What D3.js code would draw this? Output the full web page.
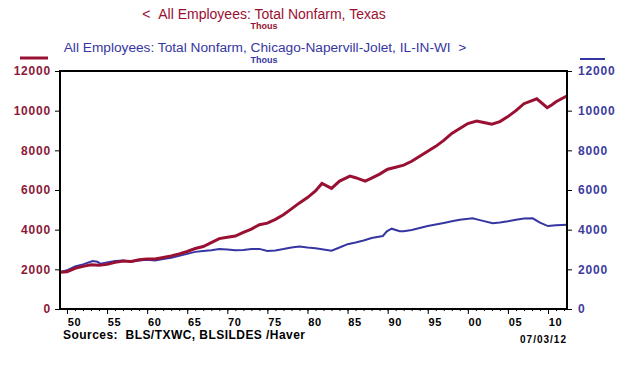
<!DOCTYPE html>
<html><head><meta charset="utf-8">
<script src="https://cdn.jsdelivr.net/npm/d3@7"></script>
<style>body{margin:0;background:#fff}svg{display:block}text{font-family:"Liberation Sans",Arial,sans-serif;white-space:pre}</style>
</head><body>
<svg id="c" width="625" height="367"></svg>
<script>
const texasYears = [1949.1,1950,1951,1952,1953,1954,1955,1956,1957,1958,1959,1960,1961,1962,1963,1964,1965,1966,1967,1968,1969,1970,1971,1972,1973,1974,1975,1976,1977,1978,1979,1980,1981,1981.8,1983.0,1984,1985.3,1986,1987.2,1988,1989,1990,1991,1992,1993,1994,1995,1996,1997,1998,1999,2000,2001.1,2002,2003,2004,2005,2006,2007,2008.6,2009.9,2010.5,2011,2012.4];
const texasValues = [1850,1880,2050,2150,2230,2200,2250,2350,2420,2400,2480,2520,2520,2600,2680,2780,2900,3050,3150,3350,3550,3620,3680,3860,4030,4250,4330,4520,4750,5050,5350,5620,5950,6330,6080,6450,6700,6620,6450,6600,6800,7050,7150,7250,7450,7700,7950,8200,8500,8850,9100,9350,9480,9400,9320,9450,9700,10000,10350,10600,10150,10300,10450,10750];
const chicagoYears = [1949.1,1950,1951,1952,1953.2,1953.8,1954.2,1955,1956,1957,1958,1959,1960,1961,1962,1963,1964,1965,1966,1967,1968,1969,1970,1971,1972,1973,1974,1975,1976,1977,1978,1979,1980,1981,1982,1983,1984,1985,1986,1987,1988,1989.4,1989.9,1990.5,1991.5,1992,1993,1994,1995,1996,1997,1998,1999,2000.6,2001.5,2003.1,2004,2005,2006,2007,2008.1,2009,2010,2011,2012.4];
const chicagoValues = [1850,1950,2150,2250,2420,2380,2280,2350,2420,2450,2380,2450,2480,2450,2520,2580,2680,2780,2880,2930,2960,3020,3000,2960,2980,3020,3030,2920,2950,3020,3100,3150,3100,3060,3000,2940,3100,3270,3350,3450,3580,3680,3920,4050,3920,3920,3980,4080,4180,4260,4340,4420,4500,4570,4480,4330,4360,4420,4500,4560,4570,4350,4180,4220,4250];
const yTicks = [0,2000,4000,6000,8000,10000,12000];
const xMajor = [1950,1955,1960,1965,1970,1975,1980,1985,1990,1995,2000,2005,2010];
const xLabels = ["50","55","60","65","70","75","80","85","90","95","00","05","10"];

const RED = "#9a1033", BLUE = "#3636a2", REDTXT = "#8c1838", BLUETXT = "#3c3c9e";
const svg = d3.select("#c");
const L = 60, R = 567, T = 71, B = 309;
const x = d3.scaleLinear().domain([1949.13, 2012.37]).range([L, R]);
const y = d3.scaleLinear().domain([0, 12000]).range([B, T]);

// titles
svg.append("text").attr("x",264).attr("y",19).attr("text-anchor","middle").attr("fill",RED).attr("font-size",14).text("<\u00a0\u00a0All Employees: Total Nonfarm, Texas");
svg.append("text").attr("x",264).attr("y",29).attr("text-anchor","middle").attr("fill",RED).attr("font-size",9).attr("font-weight","bold").text("Thous");
svg.append("text").attr("x",265).attr("y",52).attr("text-anchor","middle").attr("fill",BLUE).attr("font-size",13.7).text("All Employees: Total Nonfarm, Chicago-Napervill-Jolet, IL-IN-WI\u00a0\u00a0>");
svg.append("text").attr("x",264).attr("y",63).attr("text-anchor","middle").attr("fill",BLUE).attr("font-size",9).attr("font-weight","bold").text("Thous");
svg.append("line").attr("x1",20).attr("x2",48).attr("y1",58).attr("y2",58).attr("stroke",RED).attr("stroke-width",3);
svg.append("line").attr("x1",580).attr("x2",605).attr("y1",59).attr("y2",59).attr("stroke",BLUE).attr("stroke-width",2);

// axes
const la = svg.append("g").attr("transform",`translate(${L},0)`).call(d3.axisLeft(y).tickValues(yTicks).tickSize(5).tickPadding(4).tickFormat(d3.format("d")));
la.select(".domain").remove();
la.selectAll("text").attr("fill",REDTXT).attr("font-size",12).attr("font-weight","bold").attr("letter-spacing",0.8).style("font-family","Liberation Sans, Arial");
const ra = svg.append("g").attr("transform",`translate(${R},0)`).call(d3.axisRight(y).tickValues(yTicks).tickSize(5).tickPadding(6).tickFormat(d3.format("d")));
ra.select(".domain").remove();
ra.selectAll("text").attr("fill",BLUETXT).attr("font-size",12).attr("font-weight","bold").attr("letter-spacing",0.8).style("font-family","Liberation Sans, Arial");

const minor = d3.range(1950, 2013);
const xm = svg.append("g").attr("transform",`translate(0,${B})`).call(d3.axisBottom(x).tickValues(minor).tickSize(2).tickFormat(""));
xm.select(".domain").remove();
const xa = svg.append("g").attr("transform",`translate(0,${B})`).call(d3.axisBottom(x).tickValues(xMajor).tickSize(5).tickPadding(4).tickFormat((d,i)=>xLabels[i]));
xa.select(".domain").remove();
xa.selectAll("text").attr("fill","#000").attr("font-size",11).attr("font-weight","bold").attr("letter-spacing",0.6).attr("dx",7).style("font-family","Liberation Sans, Arial");
svg.selectAll(".tick line").attr("stroke","#000");

// lines
const lineGen = d3.line().x(d=>x(d[0])).y(d=>y(d[1]));
svg.append("path").datum(chicagoYears.map((v,i)=>[v,chicagoValues[i]])).attr("d",lineGen).attr("fill","none").attr("stroke",BLUE).attr("stroke-width",2);
svg.append("path").datum(texasYears.map((v,i)=>[v,texasValues[i]])).attr("d",lineGen).attr("fill","none").attr("stroke",RED).attr("stroke-width",3);

// frame
svg.append("rect").attr("x",L).attr("y",T).attr("width",R-L).attr("height",B-T).attr("fill","none").attr("stroke","#000").attr("stroke-width",2);

svg.append("text").attr("x",63).attr("y",339).attr("font-size",12).attr("font-weight","bold").attr("letter-spacing",0.45).attr("fill","#000").text("Sources:\u00a0\u00a0BLS/TXWC, BLSILDES /Haver");
svg.append("text").attr("x",567).attr("y",343).attr("text-anchor","end").attr("font-size",10).attr("font-weight","bold").attr("letter-spacing",1).attr("fill","#000").text("07/03/12");
</script>
</body></html>
